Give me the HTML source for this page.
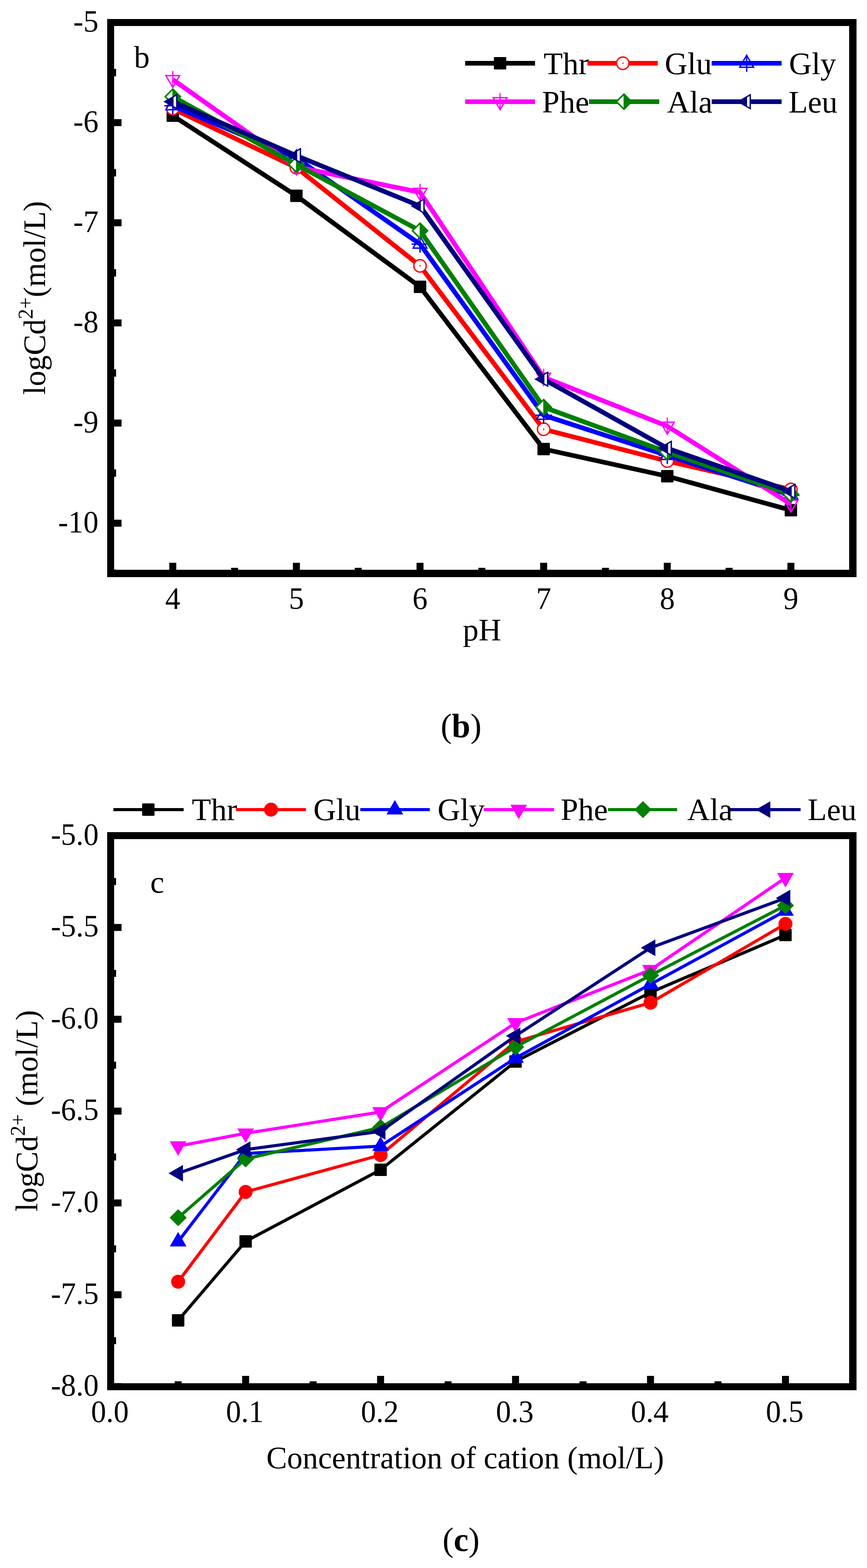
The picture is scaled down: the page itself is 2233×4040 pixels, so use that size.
<!DOCTYPE html>
<html><head><meta charset="utf-8"><title>logCd2+ vs pH and cation concentration</title>
<style>
html,body{margin:0;padding:0;background:#fff;}
body{width:2233px;height:4040px;overflow:hidden;}
svg{display:block;}
text{font-family:"Liberation Serif", "Times New Roman", serif;fill:#000;}
</style></head>
<body>
<svg width="2233" height="4040" viewBox="0 0 2233 4040">
<rect width="2233" height="4040" fill="#fff"/>
<polyline points="445,298 763.4,504.5 1081.8,739 1400.2,1157 1718.6,1227 2037,1314.6" fill="none" stroke="#000000" stroke-width="12" stroke-linejoin="round" stroke-linecap="butt"/>
<rect x="429" y="282" width="32" height="32" rx="2" fill="#000000"/>
<rect x="747.4" y="488.5" width="32" height="32" rx="2" fill="#000000"/>
<rect x="1065.8" y="723" width="32" height="32" rx="2" fill="#000000"/>
<rect x="1384.2" y="1141" width="32" height="32" rx="2" fill="#000000"/>
<rect x="1702.6" y="1211" width="32" height="32" rx="2" fill="#000000"/>
<rect x="2021" y="1298.6" width="32" height="32" rx="2" fill="#000000"/>
<polyline points="445,280 763.4,432 1081.8,685 1400.2,1106 1718.6,1188 2037,1261" fill="none" stroke="#FF0000" stroke-width="12" stroke-linejoin="round" stroke-linecap="butt"/>
<circle cx="445" cy="280" r="16" fill="#fff" stroke="#FF0000" stroke-width="3.5"/>
<rect x="444" y="278" width="2.5" height="4" fill="#FF0000"/>
<circle cx="763.4" cy="432" r="16" fill="#fff" stroke="#FF0000" stroke-width="3.5"/>
<rect x="762.4" y="430" width="2.5" height="4" fill="#FF0000"/>
<circle cx="1081.8" cy="685" r="16" fill="#fff" stroke="#FF0000" stroke-width="3.5"/>
<rect x="1080.8" y="683" width="2.5" height="4" fill="#FF0000"/>
<circle cx="1400.2" cy="1106" r="16" fill="#fff" stroke="#FF0000" stroke-width="3.5"/>
<rect x="1399.2" y="1104" width="2.5" height="4" fill="#FF0000"/>
<circle cx="1718.6" cy="1188" r="16" fill="#fff" stroke="#FF0000" stroke-width="3.5"/>
<rect x="1717.6" y="1186" width="2.5" height="4" fill="#FF0000"/>
<circle cx="2037" cy="1261" r="16" fill="#fff" stroke="#FF0000" stroke-width="3.5"/>
<rect x="2036" y="1259" width="2.5" height="4" fill="#FF0000"/>
<polyline points="445,272.5 763.4,407 1081.8,629 1400.2,1070 1718.6,1173.5 2037,1276" fill="none" stroke="#0000FF" stroke-width="12" stroke-linejoin="round" stroke-linecap="butt"/>
<polygon points="445,252 462.75,282.75 427.25,282.75" fill="none" stroke="#0000FF" stroke-width="3.5" stroke-linejoin="miter"/>
<rect x="443.25" y="250.5" width="3.5" height="44" fill="#0000FF"/>
<rect x="423" y="270.75" width="44" height="3.5" fill="#0000FF"/>
<polygon points="763.4,386.5 781.15,417.25 745.65,417.25" fill="none" stroke="#0000FF" stroke-width="3.5" stroke-linejoin="miter"/>
<rect x="761.65" y="385" width="3.5" height="44" fill="#0000FF"/>
<rect x="741.4" y="405.25" width="44" height="3.5" fill="#0000FF"/>
<polygon points="1081.8,608.5 1099.55,639.25 1064.05,639.25" fill="none" stroke="#0000FF" stroke-width="3.5" stroke-linejoin="miter"/>
<rect x="1080.05" y="607" width="3.5" height="44" fill="#0000FF"/>
<rect x="1059.8" y="627.25" width="44" height="3.5" fill="#0000FF"/>
<polygon points="1400.2,1049.5 1417.95,1080.25 1382.45,1080.25" fill="none" stroke="#0000FF" stroke-width="3.5" stroke-linejoin="miter"/>
<rect x="1398.45" y="1048" width="3.5" height="44" fill="#0000FF"/>
<rect x="1378.2" y="1068.25" width="44" height="3.5" fill="#0000FF"/>
<polygon points="1718.6,1153 1736.35,1183.75 1700.85,1183.75" fill="none" stroke="#0000FF" stroke-width="3.5" stroke-linejoin="miter"/>
<rect x="1716.85" y="1151.5" width="3.5" height="44" fill="#0000FF"/>
<rect x="1696.6" y="1171.75" width="44" height="3.5" fill="#0000FF"/>
<polygon points="2037,1255.5 2054.75,1286.25 2019.25,1286.25" fill="none" stroke="#0000FF" stroke-width="3.5" stroke-linejoin="miter"/>
<rect x="2035.25" y="1254" width="3.5" height="44" fill="#0000FF"/>
<rect x="2015" y="1274.25" width="44" height="3.5" fill="#0000FF"/>
<polyline points="445,205 763.4,430 1081.8,495.5 1400.2,972 1718.6,1098 2037,1299" fill="none" stroke="#FF00FF" stroke-width="12" stroke-linejoin="round" stroke-linecap="butt"/>
<polygon points="445,225.5 427.25,194.75 462.75,194.75" fill="none" stroke="#FF00FF" stroke-width="3.5" stroke-linejoin="miter"/>
<rect x="443.5" y="183" width="3" height="43" fill="#FF00FF"/>
<polygon points="763.4,450.5 745.65,419.75 781.15,419.75" fill="none" stroke="#FF00FF" stroke-width="3.5" stroke-linejoin="miter"/>
<rect x="761.9" y="408" width="3" height="43" fill="#FF00FF"/>
<polygon points="1081.8,516 1064.05,485.25 1099.55,485.25" fill="none" stroke="#FF00FF" stroke-width="3.5" stroke-linejoin="miter"/>
<rect x="1080.3" y="473.5" width="3" height="43" fill="#FF00FF"/>
<polygon points="1400.2,992.5 1382.45,961.75 1417.95,961.75" fill="none" stroke="#FF00FF" stroke-width="3.5" stroke-linejoin="miter"/>
<rect x="1398.7" y="950" width="3" height="43" fill="#FF00FF"/>
<polygon points="1718.6,1118.5 1700.85,1087.75 1736.35,1087.75" fill="none" stroke="#FF00FF" stroke-width="3.5" stroke-linejoin="miter"/>
<rect x="1717.1" y="1076" width="3" height="43" fill="#FF00FF"/>
<polygon points="2037,1319.5 2019.25,1288.75 2054.75,1288.75" fill="none" stroke="#FF00FF" stroke-width="3.5" stroke-linejoin="miter"/>
<rect x="2035.5" y="1277" width="3" height="43" fill="#FF00FF"/>
<polyline points="445,249 763.4,424 1081.8,594.5 1400.2,1049 1718.6,1165 2037,1273.5" fill="none" stroke="#008000" stroke-width="12" stroke-linejoin="round" stroke-linecap="butt"/>
<polygon points="445,229.5 464.5,249 445,268.5 425.5,249" fill="#fff"/>
<polygon points="444,229.5 464.5,249 444,268.5" fill="#008000"/>
<polygon points="445,229.5 464.5,249 445,268.5 425.5,249" fill="none" stroke="#008000" stroke-width="4" stroke-linejoin="miter"/>
<polygon points="763.4,404.5 782.9,424 763.4,443.5 743.9,424" fill="#fff"/>
<polygon points="762.4,404.5 782.9,424 762.4,443.5" fill="#008000"/>
<polygon points="763.4,404.5 782.9,424 763.4,443.5 743.9,424" fill="none" stroke="#008000" stroke-width="4" stroke-linejoin="miter"/>
<polygon points="1081.8,575 1101.3,594.5 1081.8,614 1062.3,594.5" fill="#fff"/>
<polygon points="1080.8,575 1101.3,594.5 1080.8,614" fill="#008000"/>
<polygon points="1081.8,575 1101.3,594.5 1081.8,614 1062.3,594.5" fill="none" stroke="#008000" stroke-width="4" stroke-linejoin="miter"/>
<polygon points="1400.2,1029.5 1419.7,1049 1400.2,1068.5 1380.7,1049" fill="#fff"/>
<polygon points="1399.2,1029.5 1419.7,1049 1399.2,1068.5" fill="#008000"/>
<polygon points="1400.2,1029.5 1419.7,1049 1400.2,1068.5 1380.7,1049" fill="none" stroke="#008000" stroke-width="4" stroke-linejoin="miter"/>
<polygon points="1718.6,1145.5 1738.1,1165 1718.6,1184.5 1699.1,1165" fill="#fff"/>
<polygon points="1717.6,1145.5 1738.1,1165 1717.6,1184.5" fill="#008000"/>
<polygon points="1718.6,1145.5 1738.1,1165 1718.6,1184.5 1699.1,1165" fill="none" stroke="#008000" stroke-width="4" stroke-linejoin="miter"/>
<polygon points="2037,1254 2056.5,1273.5 2037,1293 2017.5,1273.5" fill="#fff"/>
<polygon points="2036,1254 2056.5,1273.5 2036,1293" fill="#008000"/>
<polygon points="2037,1254 2056.5,1273.5 2037,1293 2017.5,1273.5" fill="none" stroke="#008000" stroke-width="4" stroke-linejoin="miter"/>
<polyline points="445,262 763.4,401 1081.8,531 1400.2,977 1718.6,1155 2037,1266" fill="none" stroke="#000080" stroke-width="12" stroke-linejoin="round" stroke-linecap="butt"/>
<polygon points="424.5,262 455.25,244.25 455.25,279.75" fill="#fff"/>
<polygon points="424.5,262 447,249.01 447,274.99" fill="#000080"/>
<polygon points="424.5,262 455.25,244.25 455.25,279.75" fill="none" stroke="#000080" stroke-width="3.5" stroke-linejoin="miter"/>
<polygon points="742.9,401 773.65,383.25 773.65,418.75" fill="#fff"/>
<polygon points="742.9,401 765.4,388.01 765.4,413.99" fill="#000080"/>
<polygon points="742.9,401 773.65,383.25 773.65,418.75" fill="none" stroke="#000080" stroke-width="3.5" stroke-linejoin="miter"/>
<polygon points="1061.3,531 1092.05,513.25 1092.05,548.75" fill="#fff"/>
<polygon points="1061.3,531 1083.8,518.01 1083.8,543.99" fill="#000080"/>
<polygon points="1061.3,531 1092.05,513.25 1092.05,548.75" fill="none" stroke="#000080" stroke-width="3.5" stroke-linejoin="miter"/>
<polygon points="1379.7,977 1410.45,959.25 1410.45,994.75" fill="#fff"/>
<polygon points="1379.7,977 1402.2,964.01 1402.2,989.99" fill="#000080"/>
<polygon points="1379.7,977 1410.45,959.25 1410.45,994.75" fill="none" stroke="#000080" stroke-width="3.5" stroke-linejoin="miter"/>
<polygon points="1698.1,1155 1728.85,1137.25 1728.85,1172.75" fill="#fff"/>
<polygon points="1698.1,1155 1720.6,1142.01 1720.6,1167.99" fill="#000080"/>
<polygon points="1698.1,1155 1728.85,1137.25 1728.85,1172.75" fill="none" stroke="#000080" stroke-width="3.5" stroke-linejoin="miter"/>
<polygon points="2016.5,1266 2047.25,1248.25 2047.25,1283.75" fill="#fff"/>
<polygon points="2016.5,1266 2039,1253.01 2039,1278.99" fill="#000080"/>
<polygon points="2016.5,1266 2047.25,1248.25 2047.25,1283.75" fill="none" stroke="#000080" stroke-width="3.5" stroke-linejoin="miter"/>
<rect x="276" y="49" width="1930" height="18" fill="#000"/>
<rect x="276" y="1468" width="1930" height="19" fill="#000"/>
<rect x="276" y="49" width="18" height="1438" fill="#000"/>
<rect x="2187" y="49" width="19" height="1438" fill="#000"/>
<rect x="294" y="49" width="19" height="18" fill="#000"/>
<rect x="294" y="307" width="19" height="18" fill="#000"/>
<rect x="294" y="565" width="19" height="18" fill="#000"/>
<rect x="294" y="823" width="19" height="18" fill="#000"/>
<rect x="294" y="1081" width="19" height="18" fill="#000"/>
<rect x="294" y="1339" width="19" height="18" fill="#000"/>
<rect x="294" y="177.5" width="5" height="19" fill="#000"/>
<rect x="294" y="435.5" width="5" height="19" fill="#000"/>
<rect x="294" y="693.5" width="5" height="19" fill="#000"/>
<rect x="294" y="951.5" width="5" height="19" fill="#000"/>
<rect x="294" y="1209.5" width="5" height="19" fill="#000"/>
<rect x="294" y="1467.5" width="5" height="19" fill="#000"/>
<rect x="436" y="1450" width="18" height="18" fill="#000"/>
<rect x="754.4" y="1450" width="18" height="18" fill="#000"/>
<rect x="1072.8" y="1450" width="18" height="18" fill="#000"/>
<rect x="1391.2" y="1450" width="18" height="18" fill="#000"/>
<rect x="1709.6" y="1450" width="18" height="18" fill="#000"/>
<rect x="2028" y="1450" width="18" height="18" fill="#000"/>
<rect x="595.2" y="1463" width="18" height="5" fill="#000"/>
<rect x="913.6" y="1463" width="18" height="5" fill="#000"/>
<rect x="1232" y="1463" width="18" height="5" fill="#000"/>
<rect x="1550.4" y="1463" width="18" height="5" fill="#000"/>
<rect x="1868.8" y="1463" width="18" height="5" fill="#000"/>
<text transform="translate(253.5,82) scale(0.96,1)" font-size="81" text-anchor="end">-5</text>
<text transform="translate(253.5,340) scale(0.96,1)" font-size="81" text-anchor="end">-6</text>
<text transform="translate(253.5,598) scale(0.96,1)" font-size="81" text-anchor="end">-7</text>
<text transform="translate(253.5,856) scale(0.96,1)" font-size="81" text-anchor="end">-8</text>
<text transform="translate(253.5,1114) scale(0.96,1)" font-size="81" text-anchor="end">-9</text>
<text transform="translate(253.5,1372) scale(0.96,1)" font-size="81" text-anchor="end">-10</text>
<text transform="translate(445,1569) scale(0.96,1)" font-size="81" text-anchor="middle">4</text>
<text transform="translate(763.4,1569) scale(0.96,1)" font-size="81" text-anchor="middle">5</text>
<text transform="translate(1081.8,1569) scale(0.96,1)" font-size="81" text-anchor="middle">6</text>
<text transform="translate(1400.2,1569) scale(0.96,1)" font-size="81" text-anchor="middle">7</text>
<text transform="translate(1718.6,1569) scale(0.96,1)" font-size="81" text-anchor="middle">8</text>
<text transform="translate(2037,1569) scale(0.96,1)" font-size="81" text-anchor="middle">9</text>
<text x="1241.5" y="1650" font-size="81" text-anchor="middle">pH</text>
<text transform="translate(115.8,767.5) rotate(-90) scale(0.984,1)" x="0" y="0" font-size="81" text-anchor="middle">logCd<tspan font-size="54" dy="-32">2+</tspan><tspan dy="32">(mol/L)</tspan></text>
<text x="345" y="174" font-size="81" text-anchor="start">b</text>
<rect x="1198" y="157" width="180" height="12" fill="#000000"/>
<rect x="1272" y="147" width="32" height="32" rx="2" fill="#000000"/>
<text x="1400" y="191" font-size="81" text-anchor="start">Thr</text>
<rect x="1513" y="157" width="181" height="12" fill="#FF0000"/>
<circle cx="1604" cy="163" r="16" fill="#fff" stroke="#FF0000" stroke-width="3.5"/>
<rect x="1603" y="161" width="2.5" height="4" fill="#FF0000"/>
<text x="1712" y="191" font-size="81" text-anchor="start">Glu</text>
<rect x="1833" y="157" width="180" height="12" fill="#0000FF"/>
<polygon points="1923,142.5 1940.75,173.25 1905.25,173.25" fill="none" stroke="#0000FF" stroke-width="3.5" stroke-linejoin="miter"/>
<rect x="1921.25" y="141" width="3.5" height="44" fill="#0000FF"/>
<rect x="1901" y="161.25" width="44" height="3.5" fill="#0000FF"/>
<text x="2032" y="191" font-size="81" text-anchor="start">Gly</text>
<rect x="1198" y="256" width="180" height="12" fill="#FF00FF"/>
<polygon points="1288,282.5 1270.25,251.75 1305.75,251.75" fill="none" stroke="#FF00FF" stroke-width="3.5" stroke-linejoin="miter"/>
<rect x="1286.5" y="240" width="3" height="43" fill="#FF00FF"/>
<text x="1396" y="290" font-size="81" text-anchor="start">Phe</text>
<rect x="1517" y="256" width="181" height="12" fill="#008000"/>
<polygon points="1607,242.5 1626.5,262 1607,281.5 1587.5,262" fill="#fff"/>
<polygon points="1606,242.5 1626.5,262 1606,281.5" fill="#008000"/>
<polygon points="1607,242.5 1626.5,262 1607,281.5 1587.5,262" fill="none" stroke="#008000" stroke-width="4" stroke-linejoin="miter"/>
<text x="1718" y="290" font-size="81" text-anchor="start">Ala</text>
<rect x="1833" y="256" width="180" height="12" fill="#000080"/>
<polygon points="1901.5,262 1932.25,244.25 1932.25,279.75" fill="#fff"/>
<polygon points="1901.5,262 1924,249.01 1924,274.99" fill="#000080"/>
<polygon points="1901.5,262 1932.25,244.25 1932.25,279.75" fill="none" stroke="#000080" stroke-width="3.5" stroke-linejoin="miter"/>
<text x="2031" y="290" font-size="81" text-anchor="start">Leu</text>
<text x="1187.5" y="1899" font-size="86" text-anchor="middle">(<tspan font-weight="bold">b</tspan>)</text>
<polyline points="458.8,3402 632.6,3198.4 980.2,3014 1327.8,2735 1675.4,2557 2023,2409" fill="none" stroke="#000000" stroke-width="8" stroke-linejoin="round" stroke-linecap="butt"/>
<rect x="442.8" y="3386" width="32" height="32" rx="2" fill="#000000"/>
<rect x="616.6" y="3182.4" width="32" height="32" rx="2" fill="#000000"/>
<rect x="964.2" y="2998" width="32" height="32" rx="2" fill="#000000"/>
<rect x="1311.8" y="2719" width="32" height="32" rx="2" fill="#000000"/>
<rect x="1659.4" y="2541" width="32" height="32" rx="2" fill="#000000"/>
<rect x="2007" y="2393" width="32" height="32" rx="2" fill="#000000"/>
<polyline points="458.8,3302.4 632.6,3071 980.2,2976 1327.8,2684 1675.4,2583.5 2023,2380.4" fill="none" stroke="#FF0000" stroke-width="8" stroke-linejoin="round" stroke-linecap="butt"/>
<circle cx="458.8" cy="3302.4" r="18" fill="#FF0000"/>
<circle cx="632.6" cy="3071" r="18" fill="#FF0000"/>
<circle cx="980.2" cy="2976" r="18" fill="#FF0000"/>
<circle cx="1327.8" cy="2684" r="18" fill="#FF0000"/>
<circle cx="1675.4" cy="2583.5" r="18" fill="#FF0000"/>
<circle cx="2023" cy="2380.4" r="18" fill="#FF0000"/>
<polyline points="458.8,3199 632.6,2972 980.2,2953 1327.8,2726 1675.4,2536 2023,2347" fill="none" stroke="#0000FF" stroke-width="8" stroke-linejoin="round" stroke-linecap="butt"/>
<polygon points="458.8,3175 479.58,3211 438.02,3211" fill="#0000FF" stroke="#0000FF" stroke-width="1" stroke-linejoin="round"/>
<polygon points="632.6,2948 653.38,2984 611.82,2984" fill="#0000FF" stroke="#0000FF" stroke-width="1" stroke-linejoin="round"/>
<polygon points="980.2,2929 1000.98,2965 959.42,2965" fill="#0000FF" stroke="#0000FF" stroke-width="1" stroke-linejoin="round"/>
<polygon points="1327.8,2702 1348.58,2738 1307.02,2738" fill="#0000FF" stroke="#0000FF" stroke-width="1" stroke-linejoin="round"/>
<polygon points="1675.4,2512 1696.18,2548 1654.62,2548" fill="#0000FF" stroke="#0000FF" stroke-width="1" stroke-linejoin="round"/>
<polygon points="2023,2323 2043.78,2359 2002.22,2359" fill="#0000FF" stroke="#0000FF" stroke-width="1" stroke-linejoin="round"/>
<polyline points="458.8,2953 632.6,2920 980.2,2865 1327.8,2635.6 1675.4,2498.8 2023,2261.7" fill="none" stroke="#FF00FF" stroke-width="8" stroke-linejoin="round" stroke-linecap="butt"/>
<polygon points="458.8,2977 438.02,2941 479.58,2941" fill="#FF00FF" stroke="#FF00FF" stroke-width="1" stroke-linejoin="round"/>
<polygon points="632.6,2944 611.82,2908 653.38,2908" fill="#FF00FF" stroke="#FF00FF" stroke-width="1" stroke-linejoin="round"/>
<polygon points="980.2,2889 959.42,2853 1000.98,2853" fill="#FF00FF" stroke="#FF00FF" stroke-width="1" stroke-linejoin="round"/>
<polygon points="1327.8,2659.6 1307.02,2623.6 1348.58,2623.6" fill="#FF00FF" stroke="#FF00FF" stroke-width="1" stroke-linejoin="round"/>
<polygon points="1675.4,2522.8 1654.62,2486.8 1696.18,2486.8" fill="#FF00FF" stroke="#FF00FF" stroke-width="1" stroke-linejoin="round"/>
<polygon points="2023,2285.7 2002.22,2249.7 2043.78,2249.7" fill="#FF00FF" stroke="#FF00FF" stroke-width="1" stroke-linejoin="round"/>
<polyline points="458.8,3137.4 632.6,2986 980.2,2905 1327.8,2697.5 1675.4,2513 2023,2333" fill="none" stroke="#008000" stroke-width="8" stroke-linejoin="round" stroke-linecap="butt"/>
<polygon points="458.8,3115.9 480.3,3137.4 458.8,3158.9 437.3,3137.4" fill="#008000" stroke="#008000" stroke-width="1" stroke-linejoin="round"/>
<polygon points="632.6,2964.5 654.1,2986 632.6,3007.5 611.1,2986" fill="#008000" stroke="#008000" stroke-width="1" stroke-linejoin="round"/>
<polygon points="980.2,2883.5 1001.7,2905 980.2,2926.5 958.7,2905" fill="#008000" stroke="#008000" stroke-width="1" stroke-linejoin="round"/>
<polygon points="1327.8,2676 1349.3,2697.5 1327.8,2719 1306.3,2697.5" fill="#008000" stroke="#008000" stroke-width="1" stroke-linejoin="round"/>
<polygon points="1675.4,2491.5 1696.9,2513 1675.4,2534.5 1653.9,2513" fill="#008000" stroke="#008000" stroke-width="1" stroke-linejoin="round"/>
<polygon points="2023,2311.5 2044.5,2333 2023,2354.5 2001.5,2333" fill="#008000" stroke="#008000" stroke-width="1" stroke-linejoin="round"/>
<polyline points="458.8,3023 632.6,2962 980.2,2915 1327.8,2669 1675.4,2442 2023,2314" fill="none" stroke="#000080" stroke-width="8" stroke-linejoin="round" stroke-linecap="butt"/>
<polygon points="434.8,3023 470.8,3002.22 470.8,3043.78" fill="#000080" stroke="#000080" stroke-width="1" stroke-linejoin="round"/>
<polygon points="608.6,2962 644.6,2941.22 644.6,2982.78" fill="#000080" stroke="#000080" stroke-width="1" stroke-linejoin="round"/>
<polygon points="956.2,2915 992.2,2894.22 992.2,2935.78" fill="#000080" stroke="#000080" stroke-width="1" stroke-linejoin="round"/>
<polygon points="1303.8,2669 1339.8,2648.22 1339.8,2689.78" fill="#000080" stroke="#000080" stroke-width="1" stroke-linejoin="round"/>
<polygon points="1651.4,2442 1687.4,2421.22 1687.4,2462.78" fill="#000080" stroke="#000080" stroke-width="1" stroke-linejoin="round"/>
<polygon points="1999,2314 2035,2293.22 2035,2334.78" fill="#000080" stroke="#000080" stroke-width="1" stroke-linejoin="round"/>
<rect x="276" y="2144" width="1930" height="18" fill="#000"/>
<rect x="276" y="3564" width="1930" height="18" fill="#000"/>
<rect x="276" y="2144" width="18" height="1438" fill="#000"/>
<rect x="2187" y="2144" width="19" height="1438" fill="#000"/>
<rect x="294" y="2144" width="19" height="18" fill="#000"/>
<rect x="294" y="2380.6" width="19" height="18" fill="#000"/>
<rect x="294" y="2617.2" width="19" height="18" fill="#000"/>
<rect x="294" y="2853.8" width="19" height="18" fill="#000"/>
<rect x="294" y="3090.4" width="19" height="18" fill="#000"/>
<rect x="294" y="3327" width="19" height="18" fill="#000"/>
<rect x="294" y="3563.6" width="19" height="18" fill="#000"/>
<rect x="294" y="2262.3" width="5" height="18" fill="#000"/>
<rect x="294" y="2498.9" width="5" height="18" fill="#000"/>
<rect x="294" y="2735.5" width="5" height="18" fill="#000"/>
<rect x="294" y="2972.1" width="5" height="18" fill="#000"/>
<rect x="294" y="3208.7" width="5" height="18" fill="#000"/>
<rect x="294" y="3445.3" width="5" height="18" fill="#000"/>
<rect x="623.6" y="3545" width="18" height="19" fill="#000"/>
<rect x="971.2" y="3545" width="18" height="19" fill="#000"/>
<rect x="1318.8" y="3545" width="18" height="19" fill="#000"/>
<rect x="1666.4" y="3545" width="18" height="19" fill="#000"/>
<rect x="2014" y="3545" width="18" height="19" fill="#000"/>
<rect x="449.8" y="3559" width="18" height="5" fill="#000"/>
<rect x="797.4" y="3559" width="18" height="5" fill="#000"/>
<rect x="1145" y="3559" width="18" height="5" fill="#000"/>
<rect x="1492.6" y="3559" width="18" height="5" fill="#000"/>
<rect x="1840.2" y="3559" width="18" height="5" fill="#000"/>
<rect x="2187.8" y="3559" width="18" height="5" fill="#000"/>
<text transform="translate(254,2176.5) scale(0.96,1)" font-size="81" text-anchor="end">-5.0</text>
<text transform="translate(254,2413.1) scale(0.96,1)" font-size="81" text-anchor="end">-5.5</text>
<text transform="translate(254,2649.7) scale(0.96,1)" font-size="81" text-anchor="end">-6.0</text>
<text transform="translate(254,2886.3) scale(0.96,1)" font-size="81" text-anchor="end">-6.5</text>
<text transform="translate(254,3122.9) scale(0.96,1)" font-size="81" text-anchor="end">-7.0</text>
<text transform="translate(254,3359.5) scale(0.96,1)" font-size="81" text-anchor="end">-7.5</text>
<text transform="translate(254,3596.1) scale(0.96,1)" font-size="81" text-anchor="end">-8.0</text>
<text transform="translate(283,3664) scale(0.96,1)" font-size="81" text-anchor="middle">0.0</text>
<text transform="translate(630.6,3664) scale(0.96,1)" font-size="81" text-anchor="middle">0.1</text>
<text transform="translate(978.2,3664) scale(0.96,1)" font-size="81" text-anchor="middle">0.2</text>
<text transform="translate(1325.8,3664) scale(0.96,1)" font-size="81" text-anchor="middle">0.3</text>
<text transform="translate(1673.4,3664) scale(0.96,1)" font-size="81" text-anchor="middle">0.4</text>
<text transform="translate(2021,3664) scale(0.96,1)" font-size="81" text-anchor="middle">0.5</text>
<text x="1198" y="3783" font-size="80" text-anchor="middle">Concentration of cation (mol/L)</text>
<text transform="translate(95.8,2862) rotate(-90) scale(0.984,1)" x="0" y="0" font-size="81" text-anchor="middle">logCd<tspan font-size="54" dy="-32">2+</tspan><tspan dy="32"> (mol/L)</tspan></text>
<text x="387" y="2300" font-size="81" text-anchor="start">c</text>
<rect x="292" y="2082" width="181" height="8" fill="#000000"/>
<rect x="366" y="2070" width="32" height="32" rx="2" fill="#000000"/>
<text x="494" y="2113" font-size="81" text-anchor="start">Thr</text>
<rect x="608" y="2082" width="180" height="8" fill="#FF0000"/>
<circle cx="698" cy="2086" r="18" fill="#FF0000"/>
<text x="807" y="2113" font-size="81" text-anchor="start">Glu</text>
<rect x="928" y="2082" width="179" height="8" fill="#0000FF"/>
<polygon points="1017,2062 1037.78,2098 996.22,2098" fill="#0000FF" stroke="#0000FF" stroke-width="1" stroke-linejoin="round"/>
<text x="1127" y="2113" font-size="81" text-anchor="start">Gly</text>
<rect x="1246" y="2082" width="181" height="8" fill="#FF00FF"/>
<polygon points="1336,2110 1315.22,2074 1356.78,2074" fill="#FF00FF" stroke="#FF00FF" stroke-width="1" stroke-linejoin="round"/>
<text x="1444" y="2113" font-size="81" text-anchor="start">Phe</text>
<rect x="1566" y="2082" width="178" height="8" fill="#008000"/>
<polygon points="1656,2064.5 1677.5,2086 1656,2107.5 1634.5,2086" fill="#008000" stroke="#008000" stroke-width="1" stroke-linejoin="round"/>
<text x="1770" y="2113" font-size="81" text-anchor="start">Ala</text>
<rect x="1881" y="2082" width="181" height="8" fill="#000080"/>
<polygon points="1947.5,2086 1983.5,2065.22 1983.5,2106.78" fill="#000080" stroke="#000080" stroke-width="1" stroke-linejoin="round"/>
<text x="2080" y="2113" font-size="81" text-anchor="start">Leu</text>
<text x="1187.5" y="3996" font-size="86" text-anchor="middle">(<tspan font-weight="bold">c</tspan>)</text>
</svg>
</body></html>
